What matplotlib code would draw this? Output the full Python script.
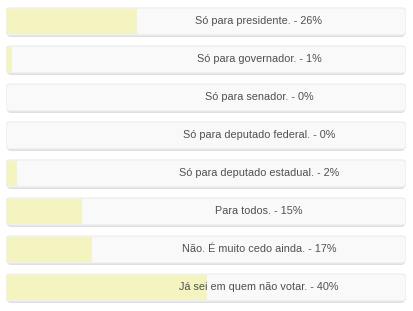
import matplotlib
matplotlib.use('Agg')
import matplotlib.pyplot as plt
from matplotlib.patches import FancyBboxPatch

# opções e percentuais da enquete
opcoes = ['Só para presidente.', 'Só para governador.', 'Só para senador.',
          'Só para deputado federal.', 'Só para deputado estadual.',
          'Para todos.', 'Não. É muito cedo ainda.', 'Já sei em quem não votar.']
percentuais = [26, 1, 0, 0, 2, 15, 17, 40]

W, H = 414, 311
fig = plt.figure(figsize=(W / 100, H / 100), dpi=100)
fig.patch.set_facecolor('white')
ax = fig.add_axes([6 / W, 0, 400 / W, 1])
escala = 80  # 5 px por ponto percentual
ax.set_xlim(0, escala)
ax.set_ylim((H - 21.5) / 38, -21.5 / 38)
ax.axis('off')

altura = 27 / 38
py = 1 / 38  # um pixel em unidades de y
asp = 5 / 38

for i, (op, p) in enumerate(zip(opcoes, percentuais)):
    # sombra
    ax.add_patch(FancyBboxPatch((0.2, i - altura / 2 + 2 * py), escala - 0.4, altura,
                                boxstyle='round,pad=0,rounding_size=0.8',
                                mutation_aspect=asp, fc='#e0e0e0', ec='none', zorder=1))
    # fundo
    ax.add_patch(FancyBboxPatch((0, i - altura / 2), escala, altura,
                                boxstyle='round,pad=0,rounding_size=0.8',
                                mutation_aspect=asp, fc='#f9f9f9', ec='#ececec',
                                lw=0.8, zorder=2))

ax.barh(range(len(opcoes)), percentuais, height=altura - 2 * py, left=0.15,
        color='#f4f4c0', zorder=3)

for i, (op, p) in enumerate(zip(opcoes, percentuais)):
    ax.text(50.6, i, f'{op} - {p}%', ha='center', va='center', fontsize=7.85,
            family='Liberation Sans', color='#505050', zorder=4)

fig.savefig('out.png', dpi=100)
